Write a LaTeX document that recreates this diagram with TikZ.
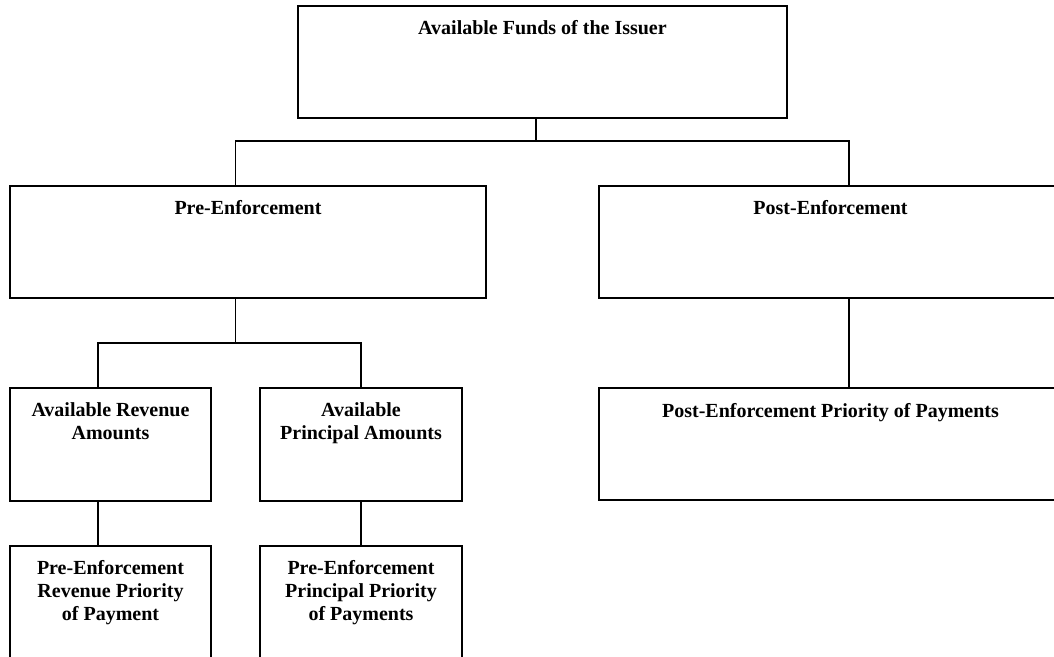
\documentclass[tikz,border=0pt]{standalone}
\usepackage{fontspec}
\setmainfont{Liberation Serif}
\usetikzlibrary{calc,fit}
\begin{document}
\begin{tikzpicture}[x=1pt,y=-1pt,
  box/.style={draw=black, line width=1.5pt, rectangle},
  caption/.style={anchor=north, inner sep=0pt, align=center,
    font=\fontsize{20}{22.8}\selectfont\bfseries},
  link/.style={draw=black, line width=1.5pt}]
  \useasboundingbox (0,0) rectangle (1054,656);
  \clip (0,0) rectangle (1054,656);

  % boxes (corner to corner)
  \node[box, fit={(298,6) (787,118)}, inner sep=0pt] (funds) {};
  \node[box, fit={(10,186) (486,298)}, inner sep=0pt] (pre) {};
  \node[box, fit={(599,186) (1062,298)}, inner sep=0pt] (post) {};
  \node[box, fit={(10,388) (211,501)}, inner sep=0pt] (rev) {};
  \node[box, fit={(260,388) (462,501)}, inner sep=0pt] (prin) {};
  \node[box, fit={(599,388) (1062,500)}, inner sep=0pt] (postpop) {};
  \node[box, fit={(10,546) (211,700)}, inner sep=0pt] (revpop) {};
  \node[box, fit={(260,546) (462,700)}, inner sep=0pt] (prinpop) {};

  % captions
  \node[caption] (fundsT) at ($(funds.north)+(0,14.5)$) {Available Funds of the Issuer};
  \node[caption] (preT) at ($(pre.north)+(0,15)$) {Pre-Enforcement};
  \node[caption] (postT) at ($(post.north)+(0,15)$) {Post-Enforcement};
  \node[caption] (revT) at ($(rev.north)+(0,15.5)$) {Available Revenue\\Amounts};
  \node[caption] (prinT) at ($(prin.north)+(0,15.5)$) {Available\\Principal Amounts};
  \node[caption] (postpopT) at ($(postpop.north)+(0,15.5)$) {Post-Enforcement Priority of Payments};
  \node[caption] (revpopT) at ($(revpop.north)+(0,15)$) {Pre-Enforcement\\Revenue Priority\\of Payment};
  \node[caption] (prinpopT) at ($(prinpop.north)+(0,15)$) {Pre-Enforcement\\Principal Priority\\of Payments};

  % junction points of the tree
  \coordinate (busTop) at (536,141);
  \coordinate (busPre) at (235.7,141);
  \coordinate (busPost) at (849,141);
  \coordinate (busMid) at (235.7,343);
  \coordinate (busRev) at (98,343);
  \coordinate (busPrin) at (361,343);

  % connectors
  \draw[link] (funds.south -| busTop) -- (busTop);
  \draw[link] (pre.north -| busPre) -- (busPre) -- (busPost) -- (post.north -| busPost);
  \draw[link] (pre.south -| busMid) -- (busMid);
  \draw[link] (rev.north -| busRev) -- (busRev) -- (busPrin) -- (prin.north -| busPrin);
  \draw[link] (post.south -| busPost) -- (postpop.north -| busPost);
  \draw[link] (rev.south -| busRev) -- (revpop.north -| busRev);
  \draw[link] (prin.south -| busPrin) -- (prinpop.north -| busPrin);
\end{tikzpicture}
\end{document}
